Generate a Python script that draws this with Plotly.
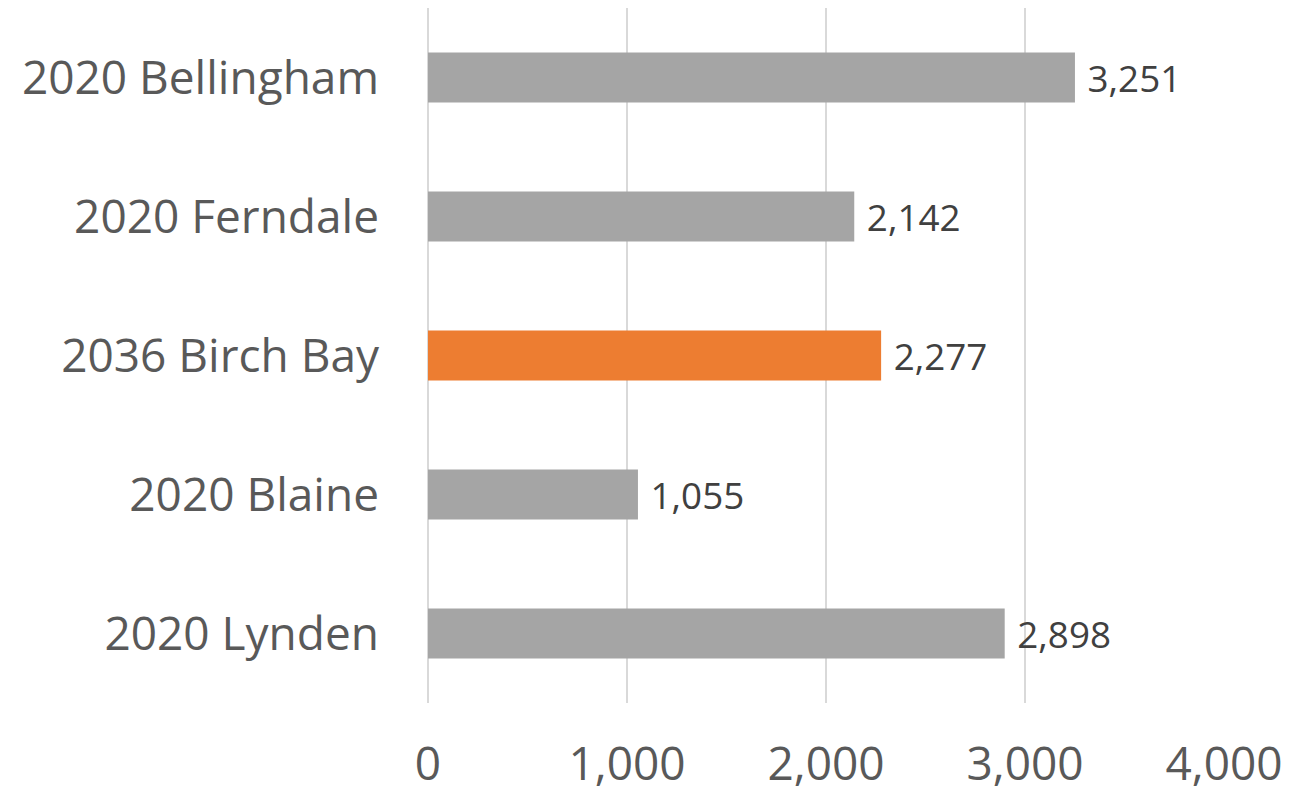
import plotly.graph_objects as go

categories = ["2020 Bellingham", "2020 Ferndale", "2036 Birch Bay", "2020 Blaine", "2020 Lynden"]
values = [3251, 2142, 2277, 1055, 2898]
bar_colors = ["#A5A5A5", "#A5A5A5", "#ED7D31", "#A5A5A5", "#A5A5A5"]
x_ticks = [0, 1000, 2000, 3000, 4000]

fig = go.Figure()

fig.add_trace(go.Bar(
    y=categories,
    x=values,
    orientation="h",
    marker=dict(color=bar_colors, line_width=0),
    text=[f" {v:,}" for v in values],
    textposition="outside",
    textfont=dict(size=39, color="#404040"),
    cliponaxis=False,
    showlegend=False,
))

# page body adds an 8px margin, so the figure is sized to fit the window
fig.update_layout(
    width=1281,
    height=788,
    margin=dict(l=420, r=65, t=0, b=93),
    plot_bgcolor="white",
    paper_bgcolor="white",
    font=dict(family="Open Sans", color="#595959"),
    bargap=0.64,
    xaxis=dict(
        range=[0, 4000],
        tickvals=x_ticks,
        ticktext=[f"{t:,}" for t in x_ticks],
        tickfont=dict(size=46, color="#595959"),
        showgrid=True,
        gridcolor="#D9D9D9",
        gridwidth=2,
        zeroline=True,
        zerolinecolor="#D9D9D9",
        zerolinewidth=2,
        showline=False,
        ticklabelstandoff=30,
        automargin=False,
    ),
    yaxis=dict(
        autorange="reversed",
        tickfont=dict(size=46, color="#595959"),
        showgrid=False,
        showline=False,
        ticklabelstandoff=48,
        automargin=False,
    ),
)

fig.write_html("out.html")
